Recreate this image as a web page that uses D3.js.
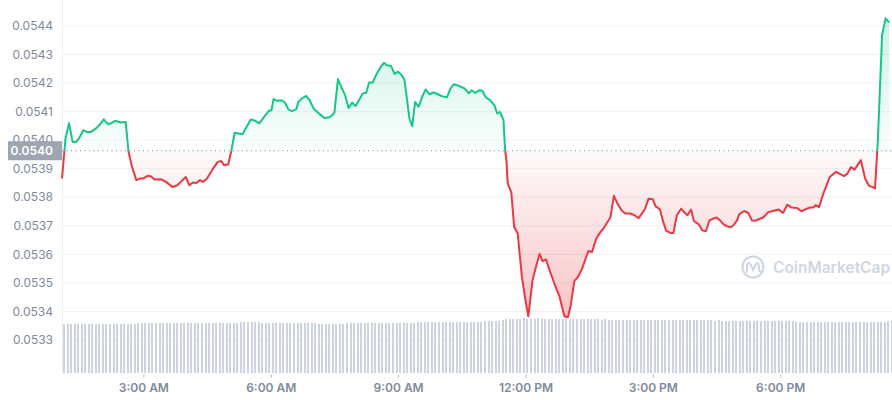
<!DOCTYPE html>
<html>
<head>
<meta charset="utf-8">
<script src="https://cdn.jsdelivr.net/npm/d3@7"></script>
<style>
  html, body { margin: 0; padding: 0; background: #ffffff; }
  svg { display: block; }
</style>
</head>
<body>
<script>
// ---------- DATA ----------
const priceTimes = [
  "01:05","01:10","01:15","01:20","01:25","01:29","01:35","01:40","01:46","01:54",
  "01:58","02:04","02:10","02:14","02:20","02:28","02:35","02:39","02:44","02:50",
  "02:56","03:00","03:06","03:10","03:16","03:22","03:26","03:32","03:41","03:48",
  "03:53","04:00","04:05","04:10","04:15","04:20","04:24","04:30","04:37","04:45",
  "04:50","04:54","05:00","05:04","05:09","05:13","05:20","05:26","05:32","05:38",
  "05:44","05:50","05:57","06:01","06:04","06:09","06:15","06:20","06:25","06:30",
  "06:36","06:39","06:44","06:50","06:55","07:01","07:08","07:16","07:23","07:27",
  "07:30","07:35","07:40","07:45","07:50","07:55","08:00","08:04","08:10","08:15",
  "08:19","08:24","08:30","08:35","08:40","08:44","08:50","08:55","09:00","09:05",
  "09:09","09:13","09:16","09:20","09:24","09:29","09:34","09:39","09:44","09:50",
  "09:56","10:02","10:09","10:14","10:19","10:25","10:34","10:40","10:44","10:49",
  "10:55","10:59","11:04","11:10","11:16","11:20","11:24","11:29","11:31","11:33",
  "11:35","11:40","11:44","11:49","11:55","12:00","12:04","12:10","12:15","12:20",
  "12:24","12:29","12:35","12:41","12:48","12:55","13:00","13:04","13:09","13:14",
  "13:20","13:25","13:29","13:34","13:40","13:46","13:50","13:55","14:00","14:05",
  "14:10","14:16","14:21","14:28","14:34","14:40","14:46","14:49","14:54","15:00",
  "15:04","15:10","15:14","15:19","15:25","15:29","15:34","15:40","15:44","15:49",
  "15:54","15:58","16:05","16:10","16:15","16:20","16:25","16:30","16:35","16:40",
  "16:45","16:50","16:54","16:59","17:02","17:09","17:15","17:20","17:25","17:29",
  "17:36","17:43","17:50","17:58","18:04","18:10","18:16","18:24","18:30","18:35",
  "18:42","18:47","18:50","18:55","19:01","19:10","19:19","19:25","19:30","19:35",
  "19:40","19:45","19:54","20:00","20:05","20:14","20:18","20:24","20:29","20:34"
];
const priceValues = [
  0.053866,0.054007,0.054059,0.053994,0.053994,0.054006,0.054035,0.054029,0.054029,0.054043,
  0.054053,0.054073,0.054056,0.054059,0.054068,0.054062,0.054064,0.053959,0.053906,0.053860,
  0.053866,0.053866,0.053875,0.053874,0.053862,0.053863,0.053862,0.053854,0.053836,0.053842,
  0.053854,0.053871,0.053842,0.053852,0.053850,0.053860,0.053854,0.053866,0.053895,0.053924,
  0.053927,0.053912,0.053916,0.053959,0.054026,0.054024,0.054021,0.054047,0.054073,0.054068,
  0.054059,0.054080,0.054102,0.054105,0.054144,0.054138,0.054140,0.054132,0.054108,0.054102,
  0.054108,0.054134,0.054146,0.054155,0.054140,0.054109,0.054094,0.054078,0.054080,0.054088,
  0.054097,0.054214,0.054185,0.054158,0.054113,0.054132,0.054120,0.054137,0.054164,0.054166,
  0.054202,0.054202,0.054234,0.054255,0.054271,0.054263,0.054260,0.054232,0.054240,0.054228,
  0.054211,0.054134,0.054076,0.054049,0.054134,0.054117,0.054152,0.054178,0.054161,0.054167,
  0.054161,0.054154,0.054150,0.054181,0.054196,0.054191,0.054181,0.054164,0.054175,0.054166,
  0.054175,0.054173,0.054150,0.054140,0.054123,0.054094,0.054099,0.054070,0.053971,0.053930,
  0.053848,0.053816,0.053696,0.053673,0.053520,0.053439,0.053383,0.053509,0.053558,0.053602,
  0.053576,0.053582,0.053538,0.053497,0.053453,0.053383,0.053380,0.053421,0.053506,0.053520,
  0.053550,0.053585,0.053612,0.053608,0.053655,0.053678,0.053690,0.053710,0.053729,0.053805,
  0.053778,0.053754,0.053743,0.053743,0.053737,0.053727,0.053748,0.053760,0.053795,0.053793,
  0.053768,0.053758,0.053719,0.053682,0.053675,0.053675,0.053737,0.053760,0.053748,0.053737,
  0.053757,0.053717,0.053705,0.053684,0.053681,0.053719,0.053725,0.053729,0.053719,0.053705,
  0.053698,0.053695,0.053702,0.053719,0.053740,0.053752,0.053745,0.053719,0.053718,0.053722,
  0.053729,0.053748,0.053752,0.053757,0.053745,0.053774,0.053764,0.053762,0.053751,0.053757,
  0.053764,0.053764,0.053772,0.053766,0.053813,0.053871,0.053889,0.053881,0.053874,0.053883,
  0.053906,0.053897,0.053930,0.053866,0.053842,0.053831,0.054000,0.054368,0.054427,0.054412
];
const baselineValue = 0.053963;          // opening price (dotted line)
const baselineLabel = "0.0540";
const yTickValues = [0.0533,0.0534,0.0535,0.0536,0.0537,0.0538,0.0539,0.0540,0.0541,0.0542,0.0543,0.0544];
const xDomain = ["01:05","20:38"];
const volumeStart = "01:05";
const volumeStepMinutes = 5;
const volumeValues = [
  48.6,48.8,49,49,49.1,49,49,49.1,49,49,
  49,49.1,49,49,49.1,49,49.2,49.1,49,49.1,
  49.3,50.2,50.3,50.3,50.2,50.3,50.4,50.3,50.3,50.2,
  50.3,50.3,50.4,50.3,50.3,50.2,50.3,50.3,50.4,50.3,
  50.3,50.2,50.3,50.3,50.3,50.4,50.3,50.2,50.3,50.4,
  51.0,51.3,51.4,51.3,51.2,51.1,50.4,50.3,50.3,50.2,
  50.3,50.3,50.2,50.3,50.3,50.3,50.2,50.3,50.3,50.2,
  50.3,50.2,49.3,49.1,49,49.1,49,49,49.2,49.1,
  50.2,50.3,50.2,50.3,50.2,50.3,50.4,50.3,50.2,50.3,
  50.3,50.4,50.3,50.2,50.3,50.3,50.4,50.3,50.3,50.4,
  50.6,50.8,50.9,51,50.9,51,51.1,51,51,51.1,
  51.1,51.2,51.3,51.2,51.3,51.4,51.3,51.3,51.5,51.6,
  51.8,52,52.3,52.5,53,53.8,54.2,54.4,54.5,54.5,
  54.6,54.5,54.4,54.5,54.6,54.5,54.4,54.3,54.4,54.5,
  54.4,54.3,54.2,54.2,54.1,54,54.1,54,53.9,53.8,
  53.7,53.6,53.5,53.6,53.5,53.4,53.5,53.4,53.3,53.3,
  53.2,53.3,53.2,53.1,53.2,53.1,53,53.1,53,53,
  53,52.9,53,52.9,52.8,52.9,52.8,52.8,52.7,52.8,
  52.7,52.6,52.7,52.6,52.5,52.6,52.5,52.4,52.5,52.4,
  52.3,52.4,52.3,52.2,52.3,52.2,52.1,52.2,52.1,52,
  52,51.9,51.8,51.8,51.7,51.6,51.6,51.5,51.5,51.4,
  51.3,51.2,51.2,51.1,51.1,51,51,51,51.1,51,
  51,51.1,51,51,51.1,51.2,51.2,51.3,51.3,51.4,
  51.4,51.5,51.5,51.6,51.6
];
const watermarkText = "CoinMarketCap";

// ---------- SETUP ----------
const W = 892, H = 400;
const plotLeft = 62, plotRight = 892;
const volBottom = 373;
const GREEN = "#16c784", RED = "#ea3943";
const parseT = d3.timeParse("%H:%M");

const price = priceTimes.map((t, i) => ({ t: parseT(t), v: priceValues[i] }));
const volStartDate = parseT(volumeStart);
const volume = volumeValues.map((v, i) => ({ t: d3.timeMinute.offset(volStartDate, i * volumeStepMinutes), v }));

const x = d3.scaleTime().domain(xDomain.map(parseT)).range([plotLeft, plotRight]);
const y = d3.scaleLinear().domain([0.0533, 0.0544]).range([340, 26]);
const yVol = d3.scaleLinear().domain([0, 60]).range([volBottom, volBottom - 60]);
const yBase = y(baselineValue);

const svg = d3.select("body").append("svg")
  .attr("width", W).attr("height", H)
  .style("font-family", "Inter, 'Open Sans', sans-serif");

const defs = svg.append("defs");
const gUp = defs.append("linearGradient").attr("id", "gUp")
  .attr("gradientUnits", "userSpaceOnUse").attr("x1", 0).attr("x2", 0)
  .attr("y1", y(d3.max(priceValues))).attr("y2", yBase);
gUp.append("stop").attr("offset", 0).attr("stop-color", GREEN).attr("stop-opacity", 0.22);
gUp.append("stop").attr("offset", 1).attr("stop-color", GREEN).attr("stop-opacity", 0.02);
const gDn = defs.append("linearGradient").attr("id", "gDn")
  .attr("gradientUnits", "userSpaceOnUse").attr("x1", 0).attr("x2", 0)
  .attr("y1", yBase).attr("y2", y(d3.min(priceValues)));
gDn.append("stop").attr("offset", 0).attr("stop-color", RED).attr("stop-opacity", 0.02);
gDn.append("stop").attr("offset", 1).attr("stop-color", RED).attr("stop-opacity", 0.3);

defs.append("clipPath").attr("id", "clipUp").append("rect")
  .attr("x", 0).attr("y", 0).attr("width", W).attr("height", yBase);
defs.append("clipPath").attr("id", "clipDn").append("rect")
  .attr("x", 0).attr("y", yBase).attr("width", W).attr("height", H - yBase);

// gridlines
svg.append("g").selectAll("line").data(yTickValues).join("line")
  .attr("x1", plotLeft).attr("x2", plotRight)
  .attr("y1", d => y(d)).attr("y2", d => y(d))
  .attr("stroke", "#eff2f5").attr("stroke-width", 1);

// left axis line
svg.append("line").attr("x1", plotLeft + 0.5).attr("x2", plotLeft + 0.5)
  .attr("y1", 0).attr("y2", volBottom).attr("stroke", "#eff2f5");

// volume bars
svg.append("g").attr("shape-rendering", "crispEdges").selectAll("rect").data(volume).join("rect")
  .attr("x", d => Math.round(x(d.t)) + 1)
  .attr("width", 2)
  .attr("y", d => yVol(d.v))
  .attr("height", d => volBottom - yVol(d.v))
  .attr("fill", "#cdd3e0");

// areas
const areaGen = d3.area().x(d => x(d.t)).y0(yBase).y1(d => y(d.v));
svg.append("path").datum(price).attr("d", areaGen)
  .attr("fill", "url(#gUp)").attr("clip-path", "url(#clipUp)");
svg.append("path").datum(price).attr("d", areaGen)
  .attr("fill", "url(#gDn)").attr("clip-path", "url(#clipDn)");

// line
const lineGen = d3.line().x(d => x(d.t)).y(d => y(d.v));
svg.append("path").datum(price).attr("d", lineGen)
  .attr("fill", "none").attr("stroke", GREEN).attr("stroke-width", 2)
  .attr("stroke-linejoin", "round").attr("clip-path", "url(#clipUp)");
svg.append("path").datum(price).attr("d", lineGen)
  .attr("fill", "none").attr("stroke", RED).attr("stroke-width", 2)
  .attr("stroke-linejoin", "round").attr("clip-path", "url(#clipDn)");

// baseline dotted
svg.append("line").attr("x1", plotLeft).attr("x2", plotRight)
  .attr("y1", yBase).attr("y2", yBase)
  .attr("stroke", "#7d8596").attr("stroke-width", 1).attr("stroke-dasharray", "1,3.5");

// y labels (the 0.0540 tick sits partly behind the baseline box, as in the original)
svg.append("g").selectAll("text").data(yTickValues).join("text")
  .attr("x", 53).attr("y", d => y(d)).attr("dy", "0.35em")
  .attr("text-anchor", "end").attr("font-size", 12).attr("fill", "#808a9d")
  .text(d => d3.format(".4f")(d));

// baseline box label
svg.append("rect").attr("x", 8).attr("y", yBase - 9.5).attr("width", plotLeft - 8).attr("height", 19)
  .attr("fill", "#9ea4b0");
svg.append("text").attr("x", 53).attr("y", yBase).attr("dy", "0.35em")
  .attr("text-anchor", "end").attr("font-size", 12).attr("font-weight", 600).attr("fill", "#ffffff")
  .text(baselineLabel);

// x axis
const xAxis = d3.axisBottom(x).ticks(d3.timeHour.every(3)).tickFormat(d3.timeFormat("%-I:%M %p"))
  .tickSize(3).tickPadding(6);
const gx = svg.append("g").attr("transform", `translate(0,${volBottom + 1.5})`).call(xAxis);
gx.select(".domain").remove();
gx.selectAll(".tick line").attr("stroke", "#a6b0c3");
gx.selectAll(".tick text").attr("font-family", "Inter, 'Open Sans', sans-serif")
  .attr("font-size", 12).attr("font-weight", 600).attr("fill", "#808a9d");

// watermark
const wm = svg.append("g").attr("transform", "translate(753,267)");
wm.append("circle").attr("r", 10.5).attr("fill", "none").attr("stroke", "#cfd6e4").attr("stroke-width", 2.2);
wm.append("path").attr("d", "M-6,5 L-6,-2 Q-5,-6 -2,-2 L0,3 L3,-3 Q5,-6 6,-1 L6,3 Q7,6 9,4")
  .attr("fill", "none").attr("stroke", "#cfd6e4").attr("stroke-width", 2).attr("stroke-linecap", "round");
svg.append("text").attr("x", 773).attr("y", 268).attr("dy", "0.35em")
  .attr("font-size", 15.5).attr("font-weight", 600).attr("fill", "#cfd6e4")
  .text(watermarkText);
</script>
</body>
</html>
